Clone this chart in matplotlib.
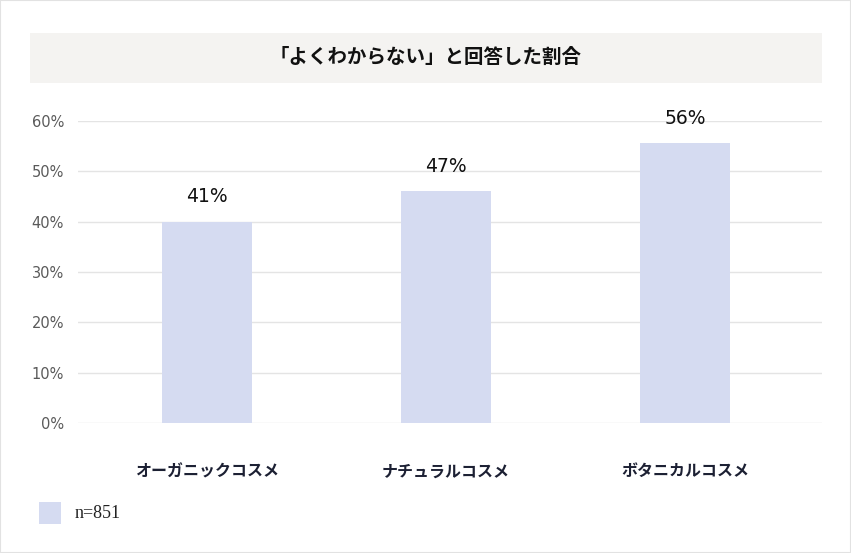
import matplotlib.pyplot as plt
import matplotlib.patches as patches
from matplotlib.ticker import FuncFormatter

plt.rcParams['font.family'] = ['Noto Sans CJK JP', 'DejaVu Sans']

# Data
categories = ["オーガニックコスメ", "ナチュラルコスメ", "ボタニカルコスメ"]
bar_values = [40.0, 46.0, 55.6]
value_labels = ["41%", "47%", "56%"]
y_ticks = [0, 10, 20, 30, 40, 50, 60]
title = "「よくわからない」と回答した割合"
legend_label = "n=851"

W, H = 851, 553
fig = plt.figure(figsize=(W / 100, H / 100), dpi=100)
fig.patch.set_facecolor("white")

# outer border
fig.patches.append(patches.Rectangle((0, 0), 1, 1, transform=fig.transFigure,
                                     fill=False, edgecolor="#e2e2e2", linewidth=1.5))

# title box
fig.patches.append(patches.Rectangle((30 / W, 1 - 83 / H), (822 - 30) / W, 50 / H,
                                     transform=fig.transFigure, facecolor="#f4f3f1",
                                     edgecolor="none"))
fig.text(426 / W, 1 - 57 / H, title, ha="center", va="center",
         fontsize=14, fontweight="bold", color="#111111")

# axes
ax = fig.add_axes([78 / W, 1 - 423 / H, (822 - 78) / W, (423 - 121) / H])
x = list(range(len(categories)))
ax.bar(x, bar_values, width=0.377, color="#d5dbf1", zorder=2)
ax.set_xlim(-0.540, 2.573)
ax.set_ylim(0, 60)
ax.set_yticks(y_ticks)
ax.yaxis.set_major_formatter(FuncFormatter(lambda v, p: f"{v:.0f}%"))
ax.grid(axis="y", color="#e4e4e4", linewidth=1, zorder=0)
ax.tick_params(axis="y", length=0, pad=10, labelsize=10.5, labelcolor="#5a5a5a")
for t in ax.get_yticklabels():
    t.set_family("DejaVu Sans")
ax.set_xticks(x)
ax.set_xticklabels(categories, fontsize=11.5, fontweight="bold", color="#1c2033")
ax.tick_params(axis="x", length=0, pad=29)
for s in ax.spines.values():
    s.set_visible(False)

for xi, v, lab in zip(x, bar_values, value_labels):
    ax.annotate(lab, (xi, v), xytext=(0, 18), textcoords="offset points",
                ha="center", va="center", fontsize=13.5, color="#111111",
                family="DejaVu Sans")

# legend
fig.patches.append(patches.Rectangle((39 / W, 1 - 524 / H), 22 / W, 22 / H,
                                     transform=fig.transFigure, facecolor="#d5dbf1",
                                     edgecolor="none"))
fig.text(75 / W, 1 - 513 / H, legend_label, ha="left", va="center",
         fontsize=13, color="#222222", family=["Liberation Serif", "DejaVu Serif"])

fig.savefig("out.png", dpi=100)
